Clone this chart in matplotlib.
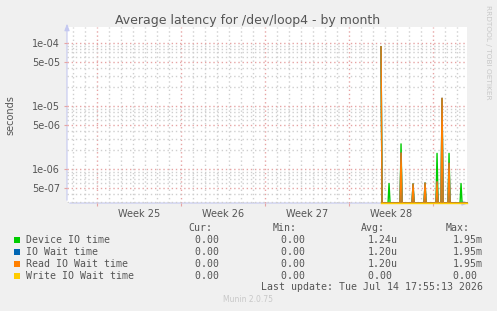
import numpy as np
import matplotlib
matplotlib.use('Agg')
import matplotlib.pyplot as plt

# datos (dias desde el borde izquierdo, 12 px por dia)
spike_days = [26.21, 26.86, 27.83, 28.86, 29.86, 30.86, 31.28, 31.86, 32.86]
device_io  = [8.6e-5, 5.9e-7, 2.5e-6, 5.8e-7, 6.0e-7, 1.77e-6, 1.3e-5, 1.77e-6, 5.9e-7]
io_wait    = [8.6e-5, 0.0, 1.8e-6, 5.8e-7, 6.0e-7, 6.3e-7, 1.32e-5, 1.24e-6, 0.0]
read_io    = [8.6e-5, 0.0, 1.8e-6, 5.8e-7, 6.0e-7, 6.3e-7, 1.32e-5, 1.24e-6, 0.0]
write_io   = [0.0, 0.0, 0.0, 0.0, 0.0, 0.0, 0.0, 0.0, 0.0]
data_start = 26.17
week_labels = ['Week 25', 'Week 26', 'Week 27', 'Week 28']
week_pos    = [6, 13, 20, 27]
week_lines  = [2.5, 9.5, 16.5, 23.5, 30.5]
y_ticks     = [1e-4, 5e-5, 1e-5, 5e-6, 1e-6, 5e-7]
y_labels    = ['1e-04', '5e-05', '1e-05', '5e-06', '1e-06', '5e-07']

nombres = ['Device IO time', 'IO Wait time', 'Read IO Wait time', 'Write IO Wait time']
colores = ['#00cc00', '#0066b3', '#ff8000', '#ffcc00']
cur = ['0.00 ', '0.00 ', '0.00 ', '0.00 ']
mini = ['0.00 ', '0.00 ', '0.00 ', '0.00 ']
avg = ['1.24u', '1.20u', '1.20u', '0.00 ']
maxi = ['1.95m', '1.95m', '1.95m', '0.00 ']

W, H = 497, 311
fig = plt.figure(figsize=(W/100, H/100), dpi=100, facecolor='#f0f0f0')
x0, x1, y0, y1 = 67, 467, 27, 203
ax = fig.add_axes([x0/W, 1-y1/H, (x1-x0)/W, (y1-y0)/H])
ax.set_facecolor('white')

xmax = (x1-x0)/12
ymin, ymax = 2.9e-7, 1.77e-4
ax.set_xlim(0, xmax)
ax.set_yscale('log')
ax.set_ylim(ymin, ymax)

# muestras cada 2 horas desde el inicio de datos
t = np.arange(data_start, xmax + 0.01, 1/12)
def serie(vals):
    s = np.zeros(len(t))
    for d, v in zip(spike_days, vals):
        s[np.argmin(np.abs(t - d))] = v
    return np.maximum(s, ymin)

for vals, c in zip([device_io, io_wait, read_io, write_io], colores):
    ax.plot(t, serie(vals), color=c, lw=1.0, clip_on=False, zorder=3)

# cuadricula estilo munin
gris = '#cfcfcf'
rojo = '#e6a4a4'
punteado = (0, (1, 2))
for d in np.arange(0.5, xmax, 1):
    if d not in week_lines:
        ax.axvline(d, color=gris, lw=1.0, ls=punteado, zorder=1)
for d in week_lines:
    ax.axvline(d, color=rojo, lw=1.0, ls=punteado, zorder=1)
for e in [-7, -6, -5, -4]:
    for m in range(1, 10):
        v = m * 10.0**e
        if v < ymin or v > ymax:
            continue
        ax.axhline(v, color=rojo if m in (1, 5) else gris, lw=1.0, ls=punteado, zorder=1)

for s in ax.spines.values():
    s.set_visible(False)
ax.set_yticks(y_ticks)
ax.set_yticklabels(y_labels)
ax.yaxis.set_minor_locator(matplotlib.ticker.NullLocator())
ax.set_xticks(week_lines)
ax.set_xticklabels([])
ax.set_xticks(week_pos, minor=True)
ax.set_xticklabels(week_labels, minor=True)
ax.tick_params(axis='y', length=2, color=rojo, labelsize=7, labelcolor='#555555', pad=3)
ax.tick_params(axis='x', which='major', length=2, color=rojo)
ax.tick_params(axis='x', which='minor', length=0, labelsize=7, labelcolor='#555555', pad=4)

# ejes con flechas
eje = '#c4c8f0'
ax.annotate('', xy=(0, 1.035), xytext=(0, 0), xycoords='axes fraction',
            arrowprops=dict(arrowstyle='-|>,head_width=0.15,head_length=0.4', color=eje, lw=0.8), zorder=0)
ax.annotate('', xy=(1.012, 0), xytext=(0, 0), xycoords='axes fraction',
            arrowprops=dict(arrowstyle='-|>,head_width=0.15,head_length=0.4', color=eje, lw=0.8), zorder=0)

def px(x, y):
    return x/W, 1 - y/H

fig.text(*px(247.5, 24), 'Average latency for /dev/loop4 - by month', ha='center', va='baseline',
         fontsize=9, color='#555555')
fig.text(*px(10.5, 115), 'seconds', rotation=90, ha='center', va='center', fontsize=7, color='#555555')
fig.text(*px(488, 5), 'RRDTOOL / TOBI OETIKER', rotation=270, ha='center', va='top',
         fontsize=5.3, color='#c8c8c8')

mono = dict(family='DejaVu Sans Mono', fontsize=7.1, color='#555555', va='center')
for x, h in zip([212.7, 297, 385, 470], ['Cur:', 'Min:', 'Avg:', 'Max:']):
    fig.text(*px(x, 228), h, ha='right', **mono)
for i in range(4):
    y = 239.7 + 12*i
    fig.patches.append(plt.Rectangle(px(14, y+3), 6/W, 6/H, transform=fig.transFigure,
                                     facecolor=colores[i], edgecolor='none'))
    fig.text(*px(26, y), nombres[i], ha='left', **mono)
    fig.text(*px(225, y), cur[i], ha='right', **mono)
    fig.text(*px(311, y), mini[i], ha='right', **mono)
    fig.text(*px(398, y), avg[i], ha='right', **mono)
    fig.text(*px(483, y), maxi[i], ha='right', **mono)
fig.text(*px(483, 287.3), 'Last update: Tue Jul 14 17:55:13 2026', ha='right', **mono)
fig.text(*px(248, 300), 'Munin 2.0.75', ha='center', va='center', fontsize=5.5, color='#c8c8c8')

fig.savefig('out.png', dpi=100, facecolor=fig.get_facecolor())
